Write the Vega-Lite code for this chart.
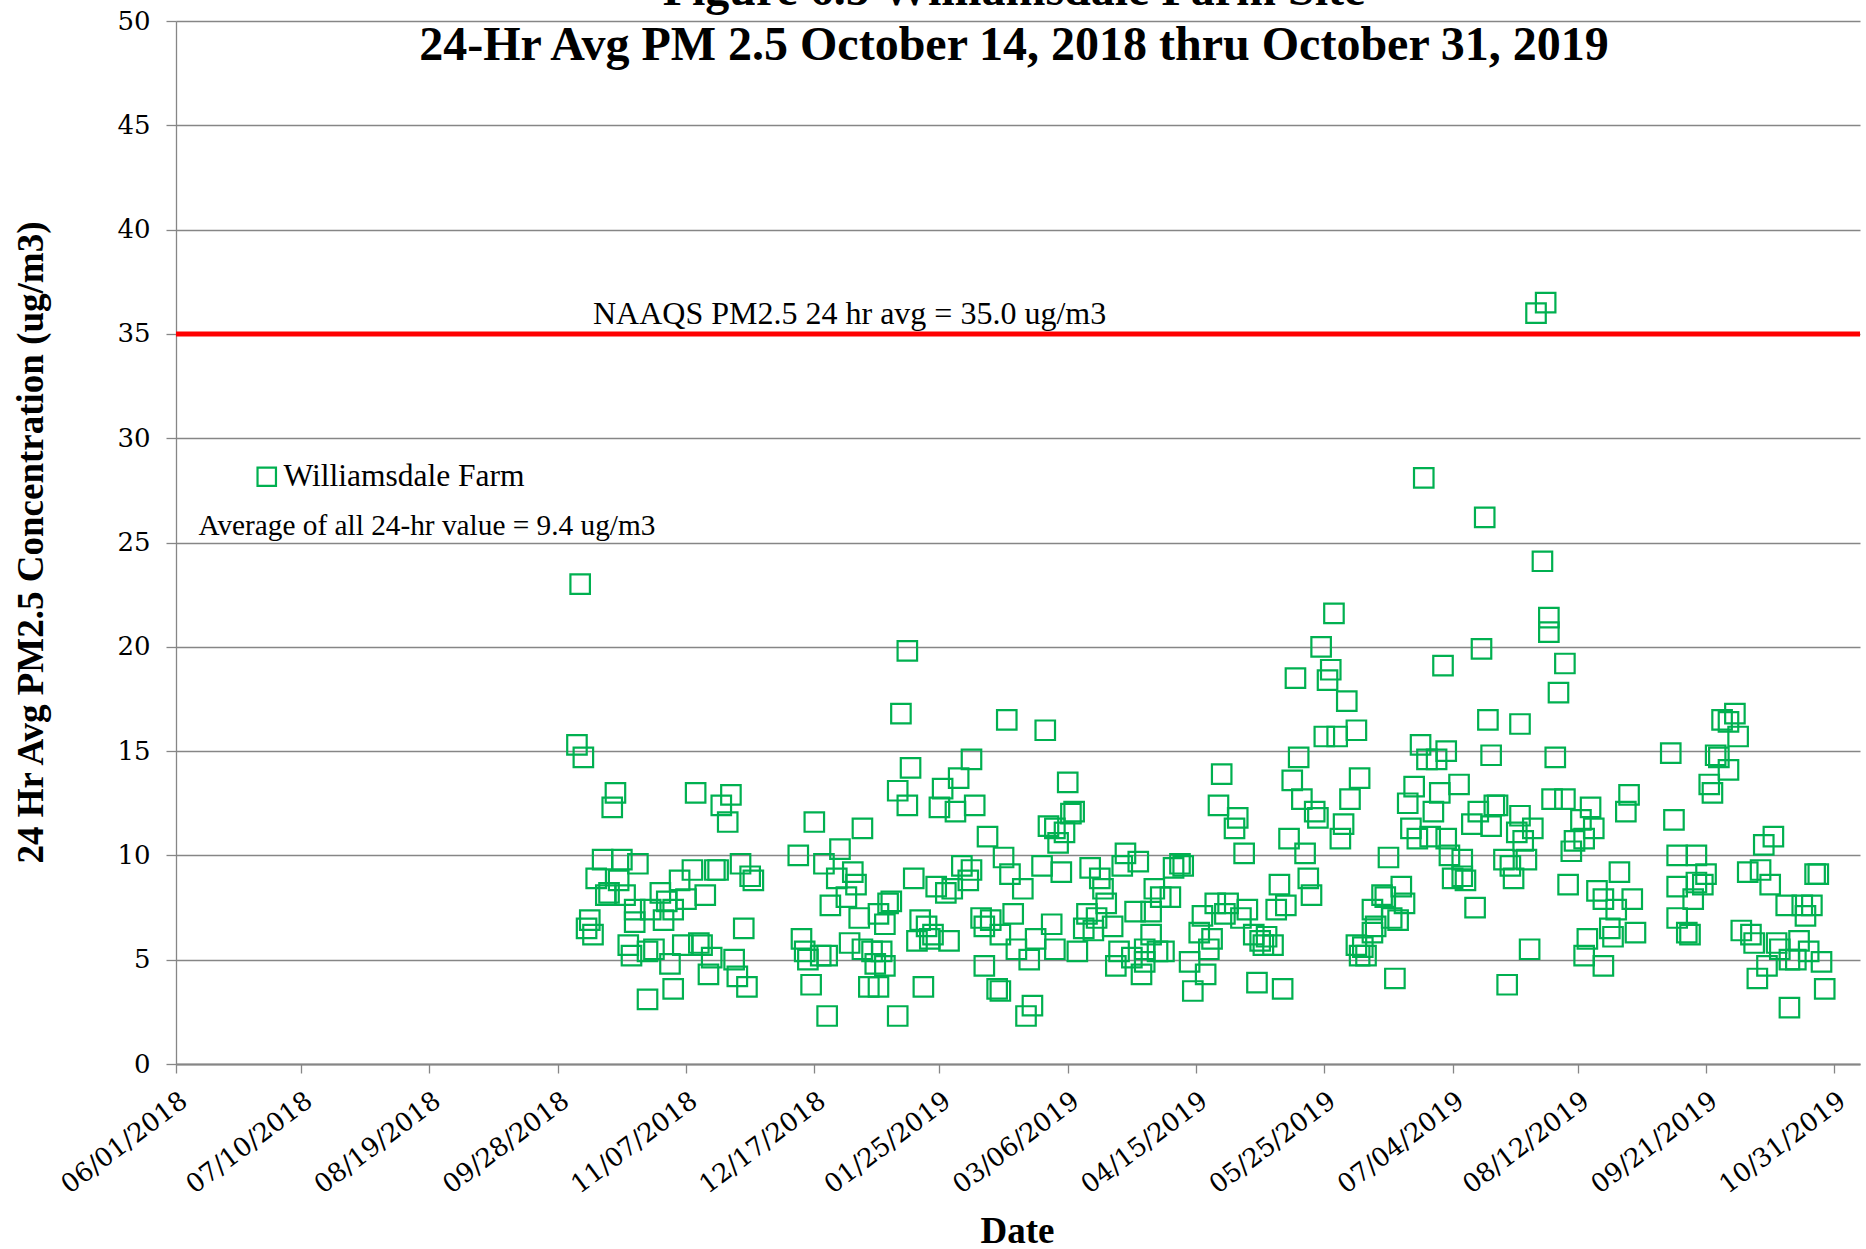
{
 "$schema": "https://vega.github.io/schema/vega-lite/v6.json",
 "width": 1684,
 "height": 1043,
 "autosize": {"type": "none"},
 "padding": {"left": 176, "top": 21, "right": 6, "bottom": 185},
 "background": "#ffffff",
 "title": {
  "text": ["Figure 6.5 Williamsdale Farm Site", "24-Hr Avg PM 2.5 October 14, 2018 thru October 31, 2019"],
  "font": "Liberation Serif", "fontSize": 48, "fontWeight": "bold", "color": "#000000",
  "anchor": "middle", "frame": "group", "offset": -62, "lineHeight": 55, "dx": -4
 },
 "config": {"view": {"stroke": null}, "font": "Liberation Serif"},
 "datasets": {
  "pm": [
   {"d":"2018-10-04","v":15.3},{"d":"2018-10-05","v":23.0},{"d":"2018-10-06","v":14.7},{"d":"2018-10-07","v":6.5},{"d":"2018-10-08","v":6.9},{"d":"2018-10-09","v":6.2},{"d":"2018-10-10","v":8.9},{"d":"2018-10-12","v":9.8},{"d":"2018-10-13","v":8.1},{"d":"2018-10-14","v":8.2},{"d":"2018-10-15","v":12.3},{"d":"2018-10-16","v":13.0},{"d":"2018-10-17","v":8.8},{"d":"2018-10-18","v":9.8},{"d":"2018-10-19","v":8.1},{"d":"2018-10-20","v":5.7},{"d":"2018-10-21","v":5.2},{"d":"2018-10-22","v":7.4},{"d":"2018-10-22","v":6.8},{"d":"2018-10-23","v":9.6},{"d":"2018-10-26","v":5.4},{"d":"2018-10-26","v":3.1},{"d":"2018-10-27","v":7.4},{"d":"2018-10-28","v":5.5},{"d":"2018-10-30","v":8.2},{"d":"2018-10-31","v":6.9},
   {"d":"2018-11-01","v":7.8},{"d":"2018-11-02","v":4.8},{"d":"2018-11-03","v":7.4},{"d":"2018-11-03","v":3.6},{"d":"2018-11-05","v":8.8},{"d":"2018-11-06","v":5.7},{"d":"2018-11-07","v":7.9},{"d":"2018-11-09","v":9.3},{"d":"2018-11-10","v":13.0},{"d":"2018-11-11","v":5.8},{"d":"2018-11-12","v":5.7},{"d":"2018-11-13","v":8.1},{"d":"2018-11-14","v":4.3},{"d":"2018-11-15","v":5.1},{"d":"2018-11-16","v":9.3},{"d":"2018-11-17","v":9.3},{"d":"2018-11-18","v":12.4},{"d":"2018-11-20","v":11.6},{"d":"2018-11-21","v":12.9},{"d":"2018-11-22","v":5.0},{"d":"2018-11-23","v":4.2},{"d":"2018-11-24","v":9.6},{"d":"2018-11-25","v":6.5},{"d":"2018-11-26","v":3.7},{"d":"2018-11-27","v":9.0},{"d":"2018-11-28","v":8.8},
   {"d":"2018-12-12","v":10.0},{"d":"2018-12-13","v":6.0},{"d":"2018-12-14","v":5.4},{"d":"2018-12-15","v":5.0},{"d":"2018-12-16","v":3.8},{"d":"2018-12-17","v":11.6},{"d":"2018-12-19","v":5.2},{"d":"2018-12-20","v":9.6},{"d":"2018-12-21","v":5.2},{"d":"2018-12-21","v":2.3},{"d":"2018-12-22","v":7.6},{"d":"2018-12-24","v":8.9},{"d":"2018-12-25","v":10.3},{"d":"2018-12-27","v":8.0},{"d":"2018-12-28","v":5.8},{"d":"2018-12-29","v":9.2},{"d":"2018-12-30","v":8.6},{"d":"2018-12-31","v":7.0},
   {"d":"2019-01-01","v":11.3},{"d":"2019-01-01","v":5.5},{"d":"2019-01-03","v":3.7},{"d":"2019-01-04","v":5.4},{"d":"2019-01-05","v":4.8},{"d":"2019-01-06","v":3.7},{"d":"2019-01-06","v":7.2},{"d":"2019-01-07","v":5.4},{"d":"2019-01-08","v":6.7},{"d":"2019-01-08","v":4.7},{"d":"2019-01-09","v":7.7},{"d":"2019-01-10","v":7.8},{"d":"2019-01-12","v":13.1},{"d":"2019-01-12","v":2.3},{"d":"2019-01-13","v":16.8},{"d":"2019-01-15","v":19.8},{"d":"2019-01-15","v":12.4},{"d":"2019-01-16","v":14.2},{"d":"2019-01-17","v":8.9},{"d":"2019-01-18","v":5.9},{"d":"2019-01-19","v":6.9},{"d":"2019-01-20","v":3.7},{"d":"2019-01-21","v":6.6},{"d":"2019-01-22","v":6.0},{"d":"2019-01-23","v":6.2},{"d":"2019-01-24","v":8.5},{"d":"2019-01-25","v":12.3},{"d":"2019-01-26","v":13.2},{"d":"2019-01-27","v":8.2},{"d":"2019-01-28","v":5.9},{"d":"2019-01-29","v":8.4},{"d":"2019-01-30","v":12.1},{"d":"2019-01-31","v":13.7},
   {"d":"2019-02-01","v":9.5},{"d":"2019-02-03","v":8.8},{"d":"2019-02-04","v":14.6},{"d":"2019-02-04","v":9.3},{"d":"2019-02-05","v":12.4},{"d":"2019-02-07","v":7.0},{"d":"2019-02-08","v":6.6},{"d":"2019-02-08","v":4.7},{"d":"2019-02-09","v":10.9},{"d":"2019-02-10","v":6.9},{"d":"2019-02-12","v":3.6},{"d":"2019-02-13","v":6.2},{"d":"2019-02-13","v":3.5},{"d":"2019-02-14","v":9.9},{"d":"2019-02-15","v":16.5},{"d":"2019-02-16","v":9.1},{"d":"2019-02-17","v":7.2},{"d":"2019-02-18","v":5.5},{"d":"2019-02-20","v":8.4},{"d":"2019-02-21","v":2.3},{"d":"2019-02-22","v":5.0},{"d":"2019-02-23","v":2.8},{"d":"2019-02-24","v":6.0},{"d":"2019-02-26","v":9.5},{"d":"2019-02-27","v":16.0},{"d":"2019-02-28","v":11.4},
   {"d":"2019-03-01","v":6.7},{"d":"2019-03-02","v":11.3},{"d":"2019-03-02","v":5.5},{"d":"2019-03-03","v":10.6},{"d":"2019-03-04","v":9.2},{"d":"2019-03-05","v":11.1},{"d":"2019-03-06","v":13.5},{"d":"2019-03-07","v":12.0},{"d":"2019-03-08","v":12.1},{"d":"2019-03-09","v":5.4},{"d":"2019-03-11","v":6.5},{"d":"2019-03-12","v":7.2},{"d":"2019-03-13","v":9.4},{"d":"2019-03-14","v":6.4},{"d":"2019-03-15","v":7.0},{"d":"2019-03-16","v":8.9},{"d":"2019-03-17","v":8.4},{"d":"2019-03-18","v":7.7},{"d":"2019-03-20","v":6.6},{"d":"2019-03-21","v":4.7},{"d":"2019-03-22","v":5.4},{"d":"2019-03-23","v":9.5},{"d":"2019-03-24","v":10.1},{"d":"2019-03-26","v":5.1},{"d":"2019-03-27","v":7.3},{"d":"2019-03-28","v":9.7},{"d":"2019-03-29","v":4.3},{"d":"2019-03-30","v":4.9},{"d":"2019-03-30","v":5.5},
   {"d":"2019-04-01","v":7.3},{"d":"2019-04-01","v":6.2},{"d":"2019-04-02","v":8.4},{"d":"2019-04-03","v":5.4},{"d":"2019-04-04","v":8.0},{"d":"2019-04-05","v":5.4},{"d":"2019-04-07","v":8.0},{"d":"2019-04-08","v":9.4},{"d":"2019-04-10","v":9.6},{"d":"2019-04-11","v":9.5},{"d":"2019-04-13","v":4.9},{"d":"2019-04-14","v":3.5},{"d":"2019-04-16","v":6.3},{"d":"2019-04-17","v":7.1},{"d":"2019-04-18","v":4.3},{"d":"2019-04-19","v":5.5},{"d":"2019-04-20","v":6.0},{"d":"2019-04-21","v":7.7},{"d":"2019-04-22","v":12.4},{"d":"2019-04-23","v":13.9},{"d":"2019-04-24","v":7.2},{"d":"2019-04-25","v":7.7},{"d":"2019-04-27","v":11.3},{"d":"2019-04-28","v":11.8},{"d":"2019-04-29","v":7.0},{"d":"2019-04-30","v":10.1},
   {"d":"2019-05-01","v":7.4},{"d":"2019-05-03","v":6.2},{"d":"2019-05-04","v":3.9},{"d":"2019-05-05","v":5.9},{"d":"2019-05-06","v":5.7},{"d":"2019-05-07","v":6.1},{"d":"2019-05-09","v":5.7},{"d":"2019-05-10","v":7.4},{"d":"2019-05-11","v":8.6},{"d":"2019-05-12","v":3.6},{"d":"2019-05-13","v":7.6},{"d":"2019-05-14","v":10.8},{"d":"2019-05-15","v":13.6},{"d":"2019-05-16","v":18.5},{"d":"2019-05-17","v":14.7},{"d":"2019-05-18","v":12.7},{"d":"2019-05-19","v":10.1},{"d":"2019-05-20","v":8.9},{"d":"2019-05-21","v":8.1},{"d":"2019-05-22","v":12.1},{"d":"2019-05-23","v":11.8},{"d":"2019-05-24","v":20.0},{"d":"2019-05-25","v":15.7},{"d":"2019-05-26","v":18.4},{"d":"2019-05-27","v":18.9},{"d":"2019-05-28","v":21.6},{"d":"2019-05-29","v":15.7},{"d":"2019-05-30","v":10.8},{"d":"2019-05-31","v":11.5},
   {"d":"2019-06-01","v":17.4},{"d":"2019-06-02","v":12.7},{"d":"2019-06-04","v":16.0},{"d":"2019-06-04","v":5.7},{"d":"2019-06-05","v":13.7},{"d":"2019-06-05","v":5.2},{"d":"2019-06-06","v":5.6},{"d":"2019-06-07","v":5.2},{"d":"2019-06-09","v":7.4},{"d":"2019-06-09","v":6.3},{"d":"2019-06-10","v":6.6},{"d":"2019-06-12","v":8.1},{"d":"2019-06-13","v":8.0},{"d":"2019-06-14","v":9.9},{"d":"2019-06-15","v":7.0},{"d":"2019-06-16","v":4.1},{"d":"2019-06-17","v":6.9},{"d":"2019-06-18","v":8.5},{"d":"2019-06-19","v":7.7},{"d":"2019-06-20","v":12.5},{"d":"2019-06-21","v":11.3},{"d":"2019-06-22","v":13.3},{"d":"2019-06-23","v":10.8},{"d":"2019-06-24","v":15.3},{"d":"2019-06-25","v":28.1},{"d":"2019-06-26","v":14.6},{"d":"2019-06-27","v":10.9},{"d":"2019-06-28","v":12.1},{"d":"2019-06-29","v":14.6},{"d":"2019-06-30","v":13.0},
   {"d":"2019-07-01","v":19.1},{"d":"2019-07-02","v":15.0},{"d":"2019-07-02","v":10.8},{"d":"2019-07-03","v":10.0},{"d":"2019-07-04","v":8.9},{"d":"2019-07-06","v":13.4},{"d":"2019-07-07","v":9.8},{"d":"2019-07-07","v":9.0},{"d":"2019-07-08","v":8.8},{"d":"2019-07-10","v":11.5},{"d":"2019-07-11","v":7.5},{"d":"2019-07-12","v":12.1},{"d":"2019-07-13","v":19.9},{"d":"2019-07-14","v":26.2},{"d":"2019-07-15","v":16.5},{"d":"2019-07-16","v":14.8},{"d":"2019-07-16","v":11.4},{"d":"2019-07-17","v":12.4},{"d":"2019-07-18","v":12.4},{"d":"2019-07-20","v":9.8},{"d":"2019-07-21","v":3.8},{"d":"2019-07-22","v":9.5},{"d":"2019-07-23","v":8.9},{"d":"2019-07-24","v":11.1},{"d":"2019-07-25","v":16.3},{"d":"2019-07-25","v":11.9},{"d":"2019-07-26","v":10.7},{"d":"2019-07-27","v":9.8},{"d":"2019-07-28","v":5.5},{"d":"2019-07-29","v":11.3},{"d":"2019-07-30","v":36.0},
   {"d":"2019-08-01","v":24.1},{"d":"2019-08-02","v":36.5},{"d":"2019-08-03","v":21.4},{"d":"2019-08-03","v":20.7},{"d":"2019-08-04","v":12.7},{"d":"2019-08-05","v":14.7},{"d":"2019-08-06","v":17.8},{"d":"2019-08-08","v":19.2},{"d":"2019-08-08","v":12.7},{"d":"2019-08-09","v":8.6},{"d":"2019-08-10","v":10.2},{"d":"2019-08-11","v":10.7},{"d":"2019-08-13","v":11.7},{"d":"2019-08-14","v":10.8},{"d":"2019-08-14","v":5.2},{"d":"2019-08-15","v":6.0},{"d":"2019-08-16","v":12.3},{"d":"2019-08-17","v":11.3},{"d":"2019-08-18","v":8.3},{"d":"2019-08-20","v":7.9},{"d":"2019-08-20","v":4.7},{"d":"2019-08-22","v":6.5},{"d":"2019-08-23","v":6.1},{"d":"2019-08-24","v":7.4},{"d":"2019-08-25","v":9.2},{"d":"2019-08-27","v":12.1},{"d":"2019-08-28","v":12.9},{"d":"2019-08-29","v":7.9},{"d":"2019-08-30","v":6.3},
   {"d":"2019-09-10","v":14.9},{"d":"2019-09-11","v":11.7},{"d":"2019-09-12","v":10.0},{"d":"2019-09-12","v":8.5},{"d":"2019-09-12","v":7.0},{"d":"2019-09-15","v":6.3},{"d":"2019-09-16","v":6.2},{"d":"2019-09-17","v":7.9},{"d":"2019-09-18","v":10.0},{"d":"2019-09-18","v":8.7},{"d":"2019-09-20","v":8.6},{"d":"2019-09-21","v":9.1},{"d":"2019-09-22","v":13.4},{"d":"2019-09-23","v":13.0},{"d":"2019-09-24","v":14.8},{"d":"2019-09-25","v":14.7},{"d":"2019-09-26","v":16.5},{"d":"2019-09-28","v":16.4},{"d":"2019-09-28","v":14.1},{"d":"2019-09-30","v":16.8},
   {"d":"2019-10-01","v":15.7},{"d":"2019-10-02","v":6.4},{"d":"2019-10-04","v":9.2},{"d":"2019-10-05","v":6.2},{"d":"2019-10-06","v":5.8},{"d":"2019-10-07","v":4.1},{"d":"2019-10-08","v":9.3},{"d":"2019-10-09","v":10.5},{"d":"2019-10-10","v":4.7},{"d":"2019-10-11","v":8.6},{"d":"2019-10-12","v":10.9},{"d":"2019-10-13","v":5.8},{"d":"2019-10-14","v":5.5},{"d":"2019-10-16","v":7.6},{"d":"2019-10-17","v":5.0},{"d":"2019-10-17","v":2.7},{"d":"2019-10-19","v":5.0},{"d":"2019-10-20","v":5.9},{"d":"2019-10-21","v":7.6},{"d":"2019-10-22","v":7.1},{"d":"2019-10-23","v":5.4},{"d":"2019-10-24","v":7.6},{"d":"2019-10-25","v":9.1},{"d":"2019-10-26","v":9.1},{"d":"2019-10-27","v":4.9},{"d":"2019-10-28","v":3.6}
  ],
  "avgNote": [{"d":"2018-06-08","v":25.38,"t":"Average of all 24-hr value = 9.4 ug/m3"}],
  "limitNote": [{"d":"2018-10-09","v":35.47,"t":"NAAQS PM2.5 24 hr avg = 35.0 ug/m3","limit":35}]
 },
 "layer": [
  {
   "data": {"name": "pm"},
   "mark": {"type": "point", "shape": "square", "filled": false, "size": 380, "strokeWidth": 2.2, "opacity": 1},
   "encoding": {
    "x": {
     "field": "d", "type": "temporal",
     "scale": {"type": "utc", "domain": [{"year":2018,"month":6,"date":1,"utc":true},{"year":2019,"month":11,"date":8,"utc":true}]},
     "axis": {
      "values": [
       {"year":2018,"month":6,"date":1,"utc":true},{"year":2018,"month":7,"date":10,"utc":true},{"year":2018,"month":8,"date":19,"utc":true},{"year":2018,"month":9,"date":28,"utc":true},{"year":2018,"month":11,"date":7,"utc":true},{"year":2018,"month":12,"date":17,"utc":true},{"year":2019,"month":1,"date":25,"utc":true},{"year":2019,"month":3,"date":6,"utc":true},{"year":2019,"month":4,"date":15,"utc":true},{"year":2019,"month":5,"date":25,"utc":true},{"year":2019,"month":7,"date":4,"utc":true},{"year":2019,"month":8,"date":12,"utc":true},{"year":2019,"month":9,"date":21,"utc":true},{"year":2019,"month":10,"date":31,"utc":true}
      ],
      "format": "%m/%d/%Y",
      "labelAngle": -37, "labelAlign": "right", "labelBaseline": "top",
      "labelFont": "DejaVu Serif", "labelFontSize": 26, "labelColor": "#000000", "labelPadding": 14,
      "labelOverlap": false, "labelFlush": false, "labelBound": false,
      "tickSize": 9, "tickColor": "#868686", "tickWidth": 1.3,
      "domainColor": "#868686", "domainWidth": 2, "grid": false,
      "title": "Date", "titleFont": "Liberation Serif", "titleFontSize": 37, "titleFontWeight": "bold", "titleColor": "#000000",
      "titleX": 841, "titleY": 178, "titleAlign": "center", "titleBaseline": "alphabetic"
     }
    },
    "y": {
     "field": "v", "type": "quantitative",
     "scale": {"domain": [0, 50], "nice": false, "zero": true},
     "axis": {
      "values": [0,5,10,15,20,25,30,35,40,45,50],
      "labelFont": "DejaVu Serif", "labelFontSize": 26, "labelColor": "#000000", "labelPadding": 16,
      "tickSize": 10, "tickColor": "#868686", "tickWidth": 1.3,
      "domainColor": "#868686", "domainWidth": 1.3,
      "grid": true, "gridColor": "#868686", "gridWidth": 1.3,
      "title": "24 Hr Avg PM2.5 Concentration (ug/m3)", "titleFont": "Liberation Serif", "titleFontSize": 37, "titleFontWeight": "bold", "titleColor": "#000000",
      "titleAngle": -90, "titleX": -145, "titleY": 521, "titleAlign": "center", "titleBaseline": "middle"
     }
    },
    "color": {
     "datum": "Williamsdale Farm", "type": "nominal",
     "scale": {"range": ["#00b050"]},
     "legend": {
      "orient": "none", "legendX": 75, "legendY": 440, "title": null, "padding": 0,
      "symbolType": "square", "symbolSize": 340, "symbolStrokeWidth": 2.2,
      "labelFont": "Liberation Serif", "labelFontSize": 31.5, "labelColor": "#000000", "labelOffset": 1, "labelLimit": 0
     }
    }
   }
  },
  {
   "data": {"name": "limitNote"},
   "mark": {"type": "rule", "color": "#ff0000", "strokeWidth": 5},
   "encoding": {"y": {"field": "limit", "type": "quantitative"}}
  },
  {
   "data": {"name": "limitNote"},
   "mark": {"type": "text", "align": "left", "baseline": "alphabetic", "font": "Liberation Serif", "fontSize": 32, "color": "#000000"},
   "encoding": {"x": {"field": "d", "type": "temporal"}, "y": {"field": "v", "type": "quantitative"}, "text": {"field": "t"}}
  },
  {
   "data": {"name": "avgNote"},
   "mark": {"type": "text", "align": "left", "baseline": "alphabetic", "font": "Liberation Serif", "fontSize": 29.3, "color": "#000000"},
   "encoding": {"x": {"field": "d", "type": "temporal"}, "y": {"field": "v", "type": "quantitative"}, "text": {"field": "t"}}
  }
 ]
}
